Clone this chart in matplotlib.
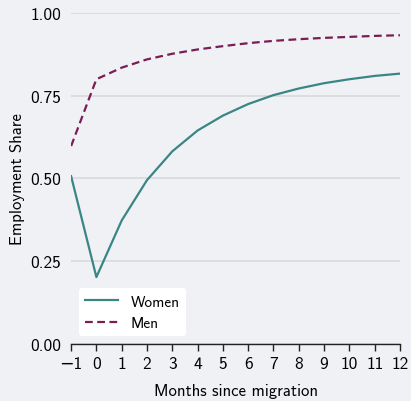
import matplotlib
matplotlib.use('Agg')
import matplotlib.pyplot as plt

# data
months = [-1, 0, 1, 2, 3, 4, 5, 6, 7, 8, 9, 10, 11, 12]
women = [0.507, 0.202, 0.373, 0.495, 0.582, 0.645, 0.690, 0.725, 0.752,
         0.772, 0.788, 0.800, 0.810, 0.817]
men = [0.598, 0.800, 0.835, 0.860, 0.877, 0.890, 0.900, 0.909, 0.916,
       0.921, 0.925, 0.928, 0.931, 0.933]
yticks = [0.0, 0.25, 0.5, 0.75, 1.0]

plt.rcParams['font.family'] = ['cmss10', 'DejaVu Sans']
plt.rcParams['axes.unicode_minus'] = True
plt.rcParams['font.size'] = 11

bg = '#eff1f5'
fig = plt.figure(figsize=(4.11, 4.02), dpi=100, facecolor=bg)
ax = fig.add_axes([0.173, 0.142, 0.80, 0.823])
ax.set_facecolor(bg)

ax.plot(months, women, color='#3a8585', lw=1.6, label='Women')
ax.plot(months, men, color='#7a1d55', lw=1.6, ls=(0, (3.5, 2)), label='Men')

ax.set_xlim(-1, 12)
ax.set_ylim(0, 1.0)
ax.set_xticks(months)
ax.set_yticks(yticks)
ax.set_yticklabels(['%.2f' % v for v in yticks])
ax.yaxis.grid(True, color='#d9dade', lw=1.2)
ax.set_axisbelow(True)
for s in ['left', 'right', 'top']:
    ax.spines[s].set_visible(False)
ax.spines['bottom'].set_color('#222222')
ax.spines['bottom'].set_linewidth(1.0)
ax.tick_params(axis='y', length=0, pad=7, labelsize=12.5)
ax.tick_params(axis='x', length=5, width=1.0, color='#222222', labelsize=12.5)
ax.set_xlabel('Months since migration', fontsize=12, labelpad=9)
ax.set_ylabel('Employment Share', fontsize=12, labelpad=4)

leg = ax.legend(loc='lower left', bbox_to_anchor=(0.0, 0.0), borderaxespad=0.5,
                fontsize=11, frameon=True, facecolor='white', edgecolor='none',
                framealpha=1.0, handlelength=2.2)

fig.savefig('out.png', dpi=100, facecolor=bg)
